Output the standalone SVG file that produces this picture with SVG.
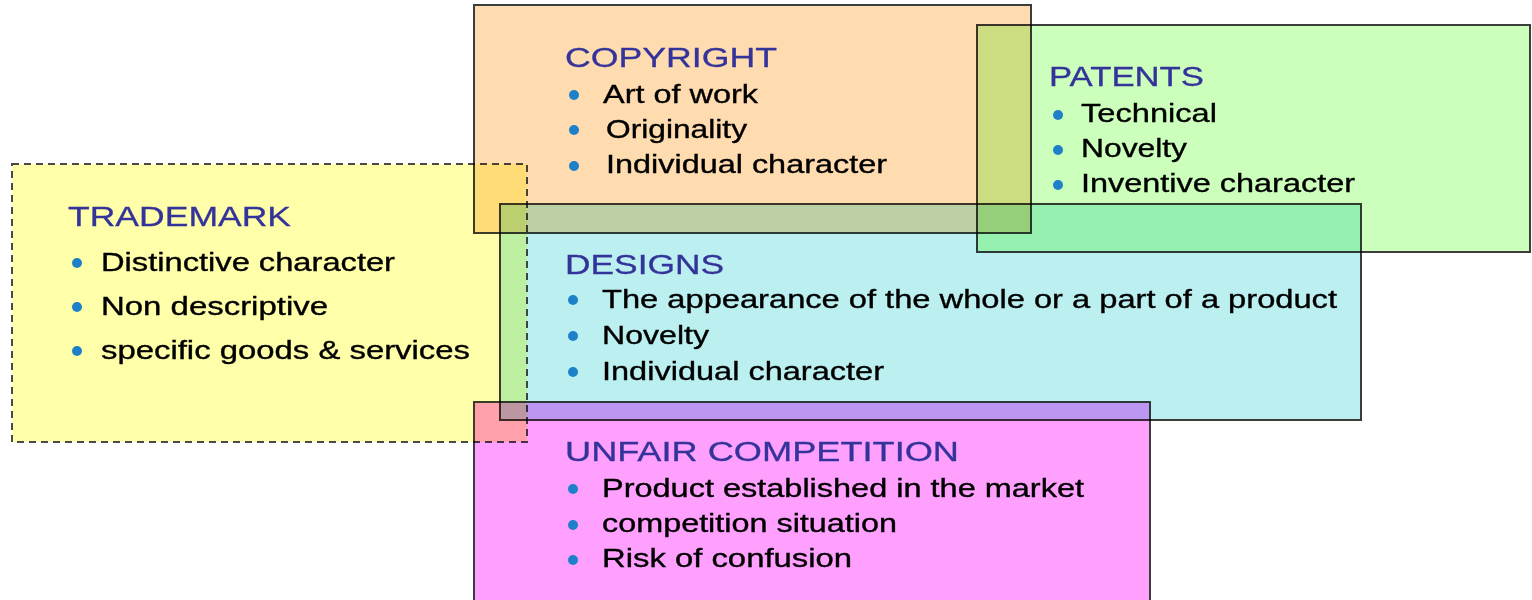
<svg xmlns="http://www.w3.org/2000/svg" width="1532" height="600" viewBox="0 0 1532 600">
<style>
.node{mix-blend-mode:multiply}
.box{stroke:#3c3c3c;stroke-width:2}
.dash{stroke:#4a4a4a;stroke-width:2;stroke-dasharray:7 5}
.title{font-family:"Liberation Sans",Arial,sans-serif;font-size:27px;fill:#33339a;stroke:#33339a;stroke-width:0.3}
.item{font-family:"Liberation Sans",Arial,sans-serif;font-size:25px;fill:#000;stroke:#000;stroke-width:0.35}
.bul{fill:#1e80c8}
</style>
<rect width="1532" height="600" fill="#ffffff"/>
<g id="trademark" class="node">
<rect class="dash" x="12" y="164" width="515" height="278" fill="#ffffaa"/>
<text class="title" x="68" y="226" textLength="223" lengthAdjust="spacingAndGlyphs">TRADEMARK</text>
<circle class="bul" cx="77" cy="263" r="5"/><text class="item" x="101" y="271" textLength="294" lengthAdjust="spacingAndGlyphs">Distinctive character</text>
<circle class="bul" cx="77" cy="307" r="5"/><text class="item" x="101" y="315" textLength="227" lengthAdjust="spacingAndGlyphs">Non descriptive</text>
<circle class="bul" cx="77" cy="351" r="5"/><text class="item" x="101" y="359" textLength="369" lengthAdjust="spacingAndGlyphs">specific goods &amp; services</text>
</g>
<g id="copyright" class="node">
<rect class="box" x="474" y="5" width="557" height="228" fill="#ffdcb0"/>
<text class="title" x="565" y="67" textLength="212" lengthAdjust="spacingAndGlyphs">COPYRIGHT</text>
<circle class="bul" cx="574" cy="95" r="5"/><text class="item" x="603" y="103" textLength="155" lengthAdjust="spacingAndGlyphs">Art of work</text>
<circle class="bul" cx="574" cy="130" r="5"/><text class="item" x="606" y="138" textLength="141" lengthAdjust="spacingAndGlyphs">Originality</text>
<circle class="bul" cx="574" cy="166" r="5"/><text class="item" x="606" y="173" textLength="281" lengthAdjust="spacingAndGlyphs">Individual character</text>
</g>
<g id="patents" class="node">
<rect class="box" x="977" y="25" width="553" height="227" fill="#ccffbb"/>
<text class="title" x="1049" y="86" textLength="155" lengthAdjust="spacingAndGlyphs">PATENTS</text>
<circle class="bul" cx="1058" cy="115" r="5"/><text class="item" x="1081" y="122" textLength="136" lengthAdjust="spacingAndGlyphs">Technical</text>
<circle class="bul" cx="1058" cy="150" r="5"/><text class="item" x="1081" y="157" textLength="106" lengthAdjust="spacingAndGlyphs">Novelty</text>
<circle class="bul" cx="1058" cy="185" r="5"/><text class="item" x="1081" y="192" textLength="274" lengthAdjust="spacingAndGlyphs">Inventive character</text>
</g>
<g id="designs" class="node">
<rect class="box" x="500" y="204" width="861" height="216" fill="#bcf0f0"/>
<text class="title" x="565" y="274" textLength="159" lengthAdjust="spacingAndGlyphs">DESIGNS</text>
<circle class="bul" cx="573" cy="300" r="5"/><text class="item" x="602" y="308" textLength="735" lengthAdjust="spacingAndGlyphs">The appearance of the whole or a part of a product</text>
<circle class="bul" cx="573" cy="336" r="5"/><text class="item" x="602" y="344" textLength="107" lengthAdjust="spacingAndGlyphs">Novelty</text>
<circle class="bul" cx="573" cy="372" r="5"/><text class="item" x="602" y="380" textLength="282" lengthAdjust="spacingAndGlyphs">Individual character</text>
</g>
<g id="unfair" class="node">
<rect class="box" x="474" y="402" width="676" height="210" fill="#ffa0ff"/>
<text class="title" x="565" y="461" textLength="394" lengthAdjust="spacingAndGlyphs">UNFAIR  COMPETITION</text>
<circle class="bul" cx="573" cy="489" r="5"/><text class="item" x="602" y="497" textLength="482" lengthAdjust="spacingAndGlyphs">Product established in the market</text>
<circle class="bul" cx="573" cy="525" r="5"/><text class="item" x="602" y="532" textLength="295" lengthAdjust="spacingAndGlyphs">competition situation</text>
<circle class="bul" cx="573" cy="560" r="5"/><text class="item" x="602" y="567" textLength="250" lengthAdjust="spacingAndGlyphs">Risk of confusion</text>
</g>
<g id="connectors"></g>
</svg>
